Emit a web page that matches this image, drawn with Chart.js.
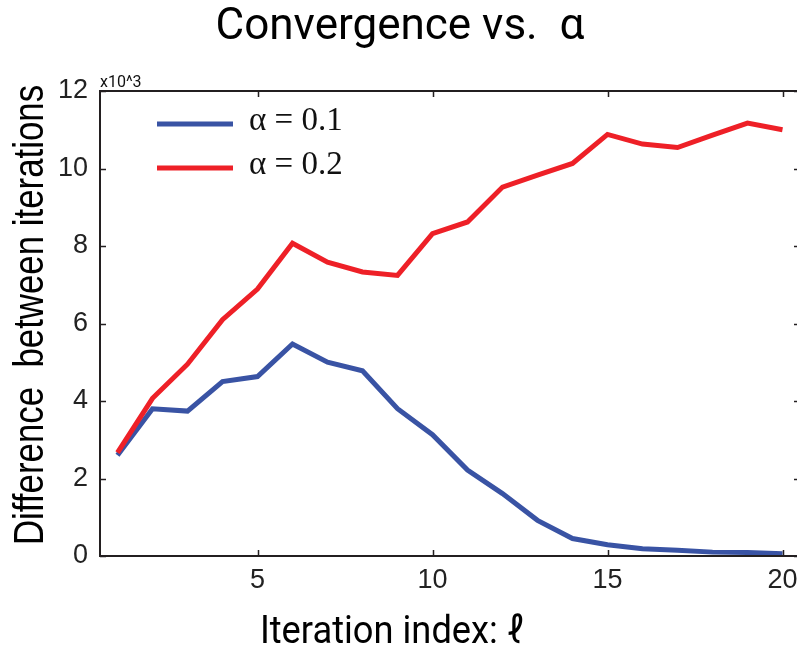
<!DOCTYPE html>
<html>
<head>
<meta charset="utf-8">
<script src="https://cdn.jsdelivr.net/npm/chart.js@4.4.0/dist/chart.umd.min.js"></script>
<style>
    html, body { margin: 0; padding: 0; background: #fff; overflow: hidden; }
    #wrap { width: 800px; height: 648px; }
</style>
</head>
<body>
<div id="wrap"><canvas id="chart" width="800" height="648"></canvas></div>
<script>
const iterations = [1, 2, 3, 4, 5, 6, 7, 8, 9, 10, 11, 12, 13, 14, 15, 16, 17, 18, 19, 20];
const alpha01 = [2.60, 3.80, 3.74, 4.50, 4.63, 5.47, 5.00, 4.78, 3.80, 3.13, 2.22, 1.61, 0.92, 0.45, 0.29, 0.19, 0.15, 0.10, 0.09, 0.06];
const alpha02 = [2.67, 4.07, 4.95, 6.10, 6.89, 8.07, 7.58, 7.33, 7.24, 8.32, 8.62, 9.52, 9.83, 10.13, 10.88, 10.63, 10.54, 10.86, 11.17, 11.00];
const seriesLabels = ['α = 0.1', 'α = 0.2'];
const seriesColors = ['#3953a4', '#ee2027'];
const xTicks = [5, 10, 15, 20];
const yTicks = [0, 2, 4, 6, 8, 10, 12];
const xTitle = 'Iteration index: ℓ';
const yTitle = 'Difference  between iterations';

const sans = '"Liberation Sans", Arial, sans-serif';
const axisColor = '#231f20';

const toPoints = (ys) => ys.map((y, i) => ({ x: iterations[i], y: y }));

// text squeezed along its baseline (no narrow face installed)
const drawCondensed = (ctx, text, x, y, font, squeeze, rotate) => {
    ctx.save();
    ctx.translate(x, y);
    if (rotate) ctx.rotate(-Math.PI / 2);
    ctx.scale(squeeze, 1);
    ctx.font = font;
    ctx.textAlign = 'center';
    ctx.textBaseline = 'alphabetic';
    ctx.fillText(text, 0, 0);
    ctx.restore();
};

// box with inward ticks on all sides, axis titles, legend and the x10^3 note
const boxPlugin = {
    id: 'boxDecor',
    afterDatasetsDraw(chart) {
        const { ctx, chartArea: a, scales } = chart;
        ctx.save();
        ctx.strokeStyle = axisColor;
        ctx.lineWidth = 2;
        ctx.beginPath();
        ctx.moveTo(a.left - 1, a.top);
        ctx.lineTo(a.right, a.top);
        ctx.lineTo(a.right, a.bottom);
        ctx.lineTo(a.left - 1, a.bottom);
        ctx.stroke();

        ctx.lineWidth = 1.5;
        ctx.beginPath();
        xTicks.forEach(v => {
            const px = Math.round(scales.x.getPixelForValue(v)) + 0.5;
            ctx.moveTo(px, a.top);
            ctx.lineTo(px, a.top + 6);
            ctx.moveTo(px, a.bottom);
            ctx.lineTo(px, a.bottom - 6);
        });
        yTicks.forEach(v => {
            const py = Math.round(scales.y.getPixelForValue(v)) + 0.5;
            ctx.moveTo(a.left, py);
            ctx.lineTo(a.left + 6, py);
            ctx.moveTo(a.right, py);
            ctx.lineTo(a.right - 6, py);
        });
        ctx.stroke();

        ctx.fillStyle = '#111';
        ctx.font = '16px Roboto, sans-serif';
        ctx.textBaseline = 'alphabetic';
        ctx.textAlign = 'left';
        ctx.fillText('x10^3', a.left, a.top - 4);

        // axis titles
        ctx.fillStyle = '#000';
        drawCondensed(ctx, xTitle, 392, 643, '39px Roboto, sans-serif', 0.93, false);
        drawCondensed(ctx, yTitle, 43, 315, '43px ' + sans, 0.81, true);

        // legend
        chart.data.datasets.forEach((ds, i) => {
            const y = a.top + 33 + i * 44;
            ctx.strokeStyle = ds.borderColor;
            ctx.lineWidth = 5;
            ctx.beginPath();
            ctx.moveTo(a.left + 57, y);
            ctx.lineTo(a.left + 133, y);
            ctx.stroke();
            ctx.fillStyle = '#111';
            ctx.font = '33px "Liberation Serif", "Times New Roman", serif';
            ctx.textAlign = 'left';
            ctx.fillText(ds.label, a.left + 149, y + 6);
        });
        ctx.restore();
    }
};

const makeDataset = (i, data, order) => ({
    label: seriesLabels[i],
    data: toPoints(data),
    borderColor: seriesColors[i],
    backgroundColor: seriesColors[i],
    borderWidth: 5,
    pointRadius: 0,
    tension: 0,
    fill: false,
    order: order
});

const ctx = document.getElementById('chart').getContext('2d');
new Chart(ctx, {
    type: 'line',
    data: {
        datasets: [
            makeDataset(0, alpha01, 1),
            makeDataset(1, alpha02, 0)
        ]
    },
    plugins: [boxPlugin],
    options: {
        responsive: false,
        animation: false,
        layout: { padding: 0 },
        plugins: {
            legend: { display: false },
            tooltip: { enabled: false },
            title: {
                display: true,
                text: 'Convergence vs.  α',
                color: '#000',
                font: { family: 'Roboto, sans-serif', size: 44, weight: 'normal', lineHeight: 1 },
                padding: { top: 6, bottom: 41 }
            }
        },
        scales: {
            x: {
                type: 'linear',
                min: 0.5,
                max: 20.5,
                afterBuildTicks: (scale) => {
                    scale.ticks = xTicks.map(v => ({ value: v }));
                },
                afterFit: (scale) => {
                    scale.height = 92;
                    scale.paddingLeft = 0;
                    scale.paddingRight = 0;
                },
                grid: { display: false, drawTicks: false },
                border: { display: true, color: axisColor, width: 2 },
                ticks: {
                    color: '#222',
                    padding: 8,
                    maxRotation: 0,
                    font: { family: sans, size: 27 }
                }
            },
            y: {
                min: 0,
                max: 12,
                afterBuildTicks: (scale) => {
                    scale.ticks = yTicks.map(v => ({ value: v }));
                },
                afterFit: (scale) => {
                    scale.width = 100;
                    scale.paddingTop = 0;
                    scale.paddingBottom = 0;
                },
                grid: { display: false, drawTicks: false },
                border: { display: true, color: axisColor, width: 2 },
                ticks: {
                    color: '#222',
                    padding: 12,
                    font: { family: sans, size: 27 }
                }
            }
        }
    }
});
</script>
</body>
</html>
